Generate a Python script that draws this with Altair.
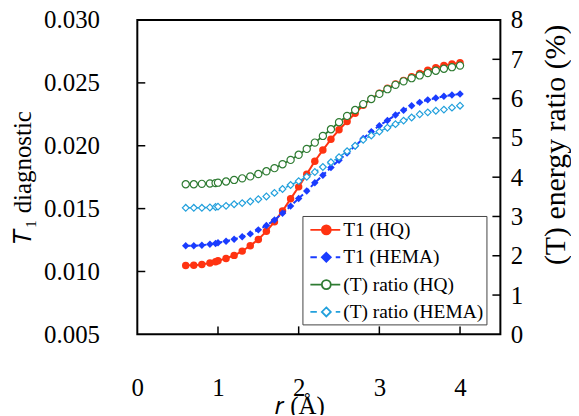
import altair as alt
import pandas as pd

# ---------------- data ----------------
r = [0.6, 0.7, 0.8, 0.9, 0.97, 1.0, 1.1, 1.2, 1.3, 1.4, 1.5, 1.6, 1.7, 1.8, 1.9,
     2.0, 2.1, 2.2, 2.3, 2.4, 2.5, 2.6, 2.7, 2.8, 2.9, 3.0, 3.1, 3.2, 3.3, 3.4,
     3.5, 3.6, 3.7, 3.8, 3.9, 4.0]

t1_hq = [0.01048, 0.01050, 0.01055, 0.01068, 0.01078, 0.01085, 0.01104, 0.01128,
         0.01162, 0.01205, 0.01255, 0.01320, 0.01396, 0.01481, 0.01578, 0.01673,
         0.01774, 0.01877, 0.01966, 0.02051, 0.02127, 0.02193, 0.02258, 0.02322,
         0.02373, 0.02417, 0.02457, 0.02491, 0.02520, 0.02549, 0.02575, 0.02600,
         0.02620, 0.02638, 0.02650, 0.02660]

t1_hema = [0.01204, 0.01205, 0.01209, 0.01217, 0.01223, 0.01228, 0.01241, 0.01257,
           0.01276, 0.01299, 0.01331, 0.01365, 0.01410, 0.01463, 0.01520, 0.01581,
           0.01640, 0.01705, 0.01766, 0.01827, 0.01885, 0.01943, 0.01998, 0.02058,
           0.02112, 0.02160, 0.02201, 0.02245, 0.02283, 0.02318, 0.02345, 0.02365,
           0.02380, 0.02393, 0.02403, 0.02412]

ratio_hq = [3.82, 3.82, 3.83, 3.84, 3.85, 3.86, 3.89, 3.93, 3.97, 4.02, 4.08, 4.15,
            4.23, 4.33, 4.44, 4.57, 4.72, 4.88, 5.05, 5.22, 5.40, 5.56, 5.71, 5.86,
            5.99, 6.12, 6.24, 6.35, 6.44, 6.52, 6.59, 6.65, 6.71, 6.76, 6.80, 6.84]

ratio_hema = [3.22, 3.22, 3.22, 3.23, 3.24, 3.25, 3.27, 3.31, 3.34, 3.38, 3.44, 3.51,
              3.60, 3.70, 3.80, 3.90, 4.01, 4.13, 4.26, 4.38, 4.51, 4.66, 4.80, 4.95,
              5.06, 5.16, 5.26, 5.35, 5.44, 5.52, 5.60, 5.65, 5.69, 5.72, 5.77, 5.82]

series_names = ["T1 (HQ)", "T1 (HEMA)", "(T) ratio (HQ)", "(T) ratio (HEMA)"]

x_ticks = [0, 1, 2, 3, 4]
left_ticks = [0.005, 0.010, 0.015, 0.020, 0.025, 0.030]
right_ticks = [0, 1, 2, 3, 4, 5, 6, 7, 8]
x_inner_ticks = [1, 2, 3, 4]
left_inner_ticks = [0.010, 0.015, 0.020, 0.025]
right_inner_ticks = [1, 2, 3, 4, 5, 6, 7]

# ---------------- styling ----------------
RED = "#ff3311"
BLUE = "#1a3cff"
GREEN = "#2e7b32"
LBLUE = "#22a0dc"
FONT = "Liberation Serif"
W, H = 365, 316

xenc = alt.X("r:Q", scale=alt.Scale(domain=[0, 4.5], nice=False, zero=False),
             axis=alt.Axis(values=x_ticks, format="d", title="𝑟 (Å)",
                           labelPadding=41, titlePadding=-6, titleX=163,
                           labelFlush=False))
yl_scale = alt.Scale(domain=[0.005, 0.030], nice=False, zero=False)
yl_axis = alt.Axis(values=left_ticks, format=".3f", title="𝑇₁ diagnostic",
                   orient="left", labelPadding=38, titlePadding=8, labelFlush=False)
yr_scale = alt.Scale(domain=[0, 8], nice=False, zero=False)
yr_axis = alt.Axis(values=right_ticks, format="d", title="(T) energy ratio (%)",
                   orient="right", labelPadding=10, titleAngle=270,
                   titleFontSize=30, titleX=55, titleY=125, labelFlush=False,
                   titleBaseline="middle", titleAlign="center")

df_hq = pd.DataFrame({"r": r, "t1": t1_hq})
df_hema = pd.DataFrame({"r": r, "t1": t1_hema})
df_rhq = pd.DataFrame({"r": r, "ratio": ratio_hq})
df_rhema = pd.DataFrame({"r": r, "ratio": ratio_hema})

def series(df, field, scale, axis, color, shape, size, filled, dash, sw):
    enc = dict(x=xenc, y=alt.Y(field + ":Q", scale=scale, axis=axis))
    line = alt.Chart(df).mark_line(color=color, strokeWidth=sw, strokeDash=dash).encode(**enc)
    pts = alt.Chart(df).mark_point(shape=shape, size=size, filled=filled, color=color,
                                   fill=color if filled else "white", opacity=1,
                                   strokeWidth=1.2).encode(**enc)
    return [line, pts]

tick_l = alt.Chart(pd.DataFrame({"t1": left_inner_ticks})).mark_rule(
    color="black", strokeWidth=1.5).encode(
    y=alt.Y("t1:Q", scale=yl_scale, axis=yl_axis), x=alt.value(0), x2=alt.value(8))
tick_b = alt.Chart(pd.DataFrame({"r": x_inner_ticks})).mark_rule(
    color="black", strokeWidth=1.5).encode(x=xenc, y=alt.value(H), y2=alt.value(H - 8))
tick_r = alt.Chart(pd.DataFrame({"ratio": right_inner_ticks})).mark_rule(
    color="black", strokeWidth=1.5).encode(
    y=alt.Y("ratio:Q", scale=yr_scale, axis=yr_axis), x=alt.value(W - 8), x2=alt.value(W))

left = alt.layer(
    *series(df_hq, "t1", yl_scale, yl_axis, RED, "circle", 56, True, [1, 0], 2),
    *series(df_hema, "t1", yl_scale, yl_axis, BLUE, "diamond", 56, True, [5, 3], 2),
    tick_l, tick_b,
)
right = alt.layer(
    *series(df_rhq, "ratio", yr_scale, yr_axis, GREEN, "circle", 52, False, [1, 0], 1.8),
    *series(df_rhema, "ratio", yr_scale, yr_axis, LBLUE, "diamond", 46, False, [5, 3], 1.5),
    tick_r,
)

# legend symbols: line + marker drawn as custom paths (unit = 10 px)
circ = ("M1.45,0C1.45,0.2485,1.2485,0.45,1,0.45C0.7515,0.45,0.55,0.2485,0.55,0"
        "C0.55,-0.2485,0.7515,-0.45,1,-0.45C1.2485,-0.45,1.45,-0.2485,1.45,0Z")
diam = "M1,-0.45L1.45,0L1,0.45L0.55,0Z"
paths = [
    "M-0.6,0H0.55M1.45,0H2.4" + circ,
    "M-0.6,0H0.05M1.95,0H2.4" + diam,
    "M-0.6,0H0.55M1.45,0H2.4" + circ,
    "M-0.6,0H0.05M1.95,0H2.4" + diam,
]
leg = alt.Chart(pd.DataFrame({"series": series_names})).transform_filter("false").mark_point(
    filled=False, strokeWidth=1.8, opacity=1).encode(
    stroke=alt.Stroke("series:N", scale=alt.Scale(domain=series_names, range=[RED, BLUE, GREEN, LBLUE]),
                      legend=alt.Legend(title=None)),
    fill=alt.Fill("series:N", scale=alt.Scale(domain=series_names, range=[RED, BLUE, "white", "white"]),
                  legend=alt.Legend(title=None)),
    shape=alt.Shape("series:N", scale=alt.Scale(domain=series_names, range=paths),
                    legend=alt.Legend(title=None)),
)

chart = alt.layer(left, right, leg).resolve_scale(y="independent").properties(
    width=W, height=H, autosize="none",
    padding={"left": 130, "top": 11, "right": 71, "bottom": 80},
).configure_view(stroke="black", strokeWidth=2).configure_axis(
    labelFont=FONT, labelFontSize=25, labelColor="black",
    titleFont=FONT, titleFontSize=25, titleFontWeight="normal", titleColor="black",
    ticks=False, domain=False, grid=False,
).configure_legend(
    orient="none", legendX=166, legendY=197, padding=3, rowPadding=6.5,
    symbolSize=400, labelOffset=16, labelFont=FONT, labelFontSize=19.5,
    labelColor="black", strokeColor="#444", fillColor="white",
    symbolStrokeWidth=1.8, symbolOpacity=1, labelLimit=300,
)

chart.save("out.html", embed_options={"renderer": "svg", "actions": False})
